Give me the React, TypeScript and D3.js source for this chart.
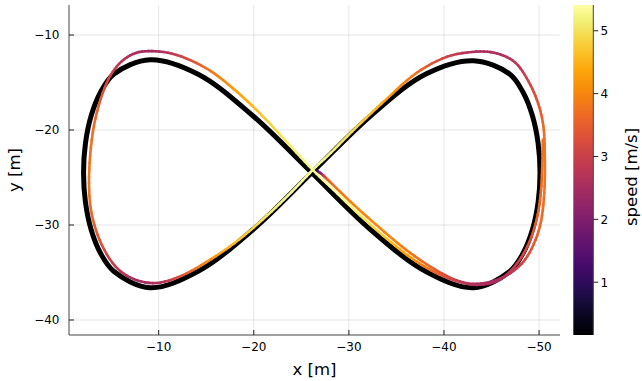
import React from "react";
import * as d3 from "d3";

// reference figure-eight (closed)
const refX = [-2.1, -2.3, -2.9, -3.9, -5.3, -9.1, -14.1, -19.9, -26.1, -32.3, -38.1, -43.1, -46.9, -48.3, -49.3, -49.9, -50.1, -49.9, -49.3, -48.3, -46.9, -43.1, -38.1, -32.3, -26.1, -19.9, -14.1, -9.1, -5.3, -3.9, -2.9, -2.3];
const refY = [-24.5, -21.4, -18.5, -16.0, -14.1, -12.6, -14.1, -18.5, -24.5, -30.5, -34.9, -36.6, -34.9, -33.0, -30.5, -27.6, -24.5, -21.4, -18.5, -16.0, -14.1, -12.7, -14.1, -18.5, -24.5, -30.5, -34.9, -36.6, -34.9, -33.0, -30.5, -27.6];

// driven trajectory
const trajX = [-26.5, -27.1, -28.0, -30.6, -33.3, -36.0, -38.6, -41.0, -43.1, -45.5, -47.6, -49.0, -50.1, -50.55, -50.6, -50.45, -49.9, -48.9, -47.5, -45.6, -43.4, -40.3, -37.1, -34.0, -30.8, -28.1, -26.2, -24.0, -21.4, -18.5, -15.5, -12.5, -9.8, -7.4, -5.4, -3.8, -2.85, -2.7, -3.2, -4.3, -5.6, -7.3, -9.3, -11.9, -15.0, -17.8, -20.8, -23.6, -26.2, -28.4, -31.2, -34.0, -36.6, -39.1, -41.3, -43.4, -45.6, -47.4, -48.8, -49.75, -50.2, -50.35, -50.4];
const trajY = [-24.25, -24.6, -25.45, -27.95, -30.35, -32.6, -34.4, -35.7, -36.2, -35.8, -34.6, -32.9, -30.1, -26.6, -22.5, -19.6, -17.2, -14.9, -12.9, -11.95, -11.75, -12.3, -14.0, -16.7, -19.7, -22.4, -24.2, -26.5, -29.0, -31.5, -33.6, -35.3, -36.1, -35.7, -34.3, -31.6, -28.2, -24.2, -19.5, -15.6, -13.3, -12.0, -11.7, -12.1, -13.5, -15.6, -18.4, -21.4, -24.2, -26.3, -29.0, -31.45, -33.5, -35.0, -35.9, -36.3, -35.9, -34.4, -32.2, -29.4, -26.4, -23.2, -21.0];
const trajSpeed = [0.16, 2.2, 3.6, 4.0, 4.0, 3.9, 3.6, 3.0, 2.6, 2.5, 2.9, 3.3, 3.6, 3.8, 3.8, 3.7, 3.4, 3.1, 2.8, 2.6, 2.55, 3.0, 3.7, 4.3, 4.9, 5.2, 5.3, 5.3, 5.1, 4.7, 4.2, 3.4, 2.6, 2.5, 2.9, 3.3, 3.7, 3.8, 3.7, 3.3, 2.9, 2.6, 2.45, 2.9, 3.7, 4.2, 4.7, 5.1, 5.3, 5.41, 5.1, 4.7, 4.2, 3.6, 3.0, 2.6, 2.5, 2.9, 3.2, 3.5, 3.7, 3.75, 3.75];

const xTicks = [-10, -20, -30, -40, -50];
const yTicks = [-10, -20, -30, -40];
const cTicks = [1, 2, 3, 4, 5];

const W = 642;
const H = 381;
const plot = { left: 69, right: 560, top: 5, bottom: 335 };
const cbar = { left: 573.3, right: 593.3 };
const font = "DejaVu Sans, sans-serif";
const fmt = (v: number) => (v < 0 ? "\u2212" + Math.abs(v) : String(v));

export default function App() {
  const x = d3.scaleLinear().domain([-0.57, -52.2]).range([plot.left, plot.right]);
  const y = d3.scaleLinear().domain([-41.58, -6.84]).range([plot.bottom, plot.top]);
  const sExt = d3.extent(trajSpeed) as [number, number];
  const c = d3.scaleLinear().domain(sExt).range([plot.bottom, plot.top]);
  const color = (v: number) => d3.interpolateInferno((v - sExt[0]) / (sExt[1] - sExt[0]));

  const refPts: [number, number][] = refX.map((v, i) => [x(v), y(refY[i])]);
  const refPath = d3.line().curve(d3.curveCatmullRomClosed.alpha(0.5))(refPts) || "";

  // colored trajectory: catmull-rom pieces sampled into short coloured segments
  const pts = trajX.map((v, i) => [x(v), y(trajY[i])]);
  const segs: { x1: number; y1: number; x2: number; y2: number; col: string }[] = [];
  const n = pts.length;
  const steps = 6;
  for (let i = 0; i < n - 1; i++) {
    const p0 = pts[Math.max(i - 1, 0)];
    const p1 = pts[i];
    const p2 = pts[i + 1];
    const p3 = pts[Math.min(i + 2, n - 1)];
    const c1 = [p1[0] + (p2[0] - p0[0]) / 6, p1[1] + (p2[1] - p0[1]) / 6];
    const c2 = [p2[0] - (p3[0] - p1[0]) / 6, p2[1] - (p3[1] - p1[1]) / 6];
    const bez = (t: number) => {
      const u = 1 - t;
      return [
        u * u * u * p1[0] + 3 * u * u * t * c1[0] + 3 * u * t * t * c2[0] + t * t * t * p2[0],
        u * u * u * p1[1] + 3 * u * u * t * c1[1] + 3 * u * t * t * c2[1] + t * t * t * p2[1],
      ];
    };
    for (let k = 0; k < steps; k++) {
      const a = bez(k / steps);
      const b = bez((k + 1) / steps);
      const v = trajSpeed[i] + (trajSpeed[i + 1] - trajSpeed[i]) * ((k + 0.5) / steps);
      segs.push({ x1: a[0], y1: a[1], x2: b[0], y2: b[1], col: color(v) });
    }
  }

  const gradStops = d3.range(0, 1.0001, 0.05);

  return (
    <svg width={W} height={H} style={{ position: "absolute", left: 0, top: 0 }} fontFamily={font}>
      <defs>
        <linearGradient id="cb" x1="0" y1="1" x2="0" y2="0">
          {gradStops.map((t) => (
            <stop key={t} offset={t} stopColor={d3.interpolateInferno(t)} />
          ))}
        </linearGradient>
      </defs>
      <rect width={W} height={H} fill="#fff" />

      {/* grid */}
      {xTicks.map((t) => (
        <line key={"gx" + t} x1={x(t)} x2={x(t)} y1={plot.top} y2={plot.bottom} stroke="#000" strokeOpacity={0.1} strokeWidth={1} />
      ))}
      {yTicks.map((t) => (
        <line key={"gy" + t} x1={plot.left} x2={plot.right} y1={y(t)} y2={y(t)} stroke="#000" strokeOpacity={0.1} strokeWidth={1} />
      ))}

      {/* reference */}
      <path d={refPath} fill="none" stroke="#000" strokeWidth={5} />

      {/* trajectory */}
      {segs.map((s, i) => (
        <line key={i} x1={s.x1} y1={s.y1} x2={s.x2} y2={s.y2} stroke={s.col} strokeWidth={2.6} strokeLinecap="round" />
      ))}

      {/* axes */}
      <line x1={plot.left} x2={plot.left} y1={plot.top} y2={plot.bottom} stroke="#444" strokeWidth={1} />
      <line x1={plot.left} x2={plot.right} y1={plot.bottom} y2={plot.bottom} stroke="#444" strokeWidth={1} />
      {xTicks.map((t) => (
        <g key={"tx" + t}>
          <line x1={x(t)} x2={x(t)} y1={plot.bottom} y2={plot.bottom - 5} stroke="#222" />
          <text x={x(t)} y={351} fontSize={12} textAnchor="middle" fill="#000">{fmt(t)}</text>
        </g>
      ))}
      {yTicks.map((t) => (
        <g key={"ty" + t}>
          <line x1={plot.left} x2={plot.left + 5} y1={y(t)} y2={y(t)} stroke="#222" />
          <text x={59.5} y={y(t) + 4.3} fontSize={12} textAnchor="end" fill="#000">{fmt(t)}</text>
        </g>
      ))}
      <text x={(plot.left + plot.right) / 2} y={375} fontSize={16.5} textAnchor="middle" fill="#000">x [m]</text>
      <text transform={`translate(20,170) rotate(-90)`} fontSize={16.5} textAnchor="middle" fill="#000">y [m]</text>

      {/* colorbar */}
      <rect x={cbar.left} y={plot.top} width={cbar.right - cbar.left} height={plot.bottom - plot.top} fill="url(#cb)" />
      <line x1={cbar.right} x2={cbar.right} y1={plot.top} y2={plot.bottom} stroke="#444" />
      {cTicks.map((t) => (
        <g key={"tc" + t}>
          <line x1={cbar.right} x2={cbar.right + 5} y1={c(t)} y2={c(t)} stroke="#222" />
          <text x={600.5} y={c(t) + 4.3} fontSize={12} fill="#000">{t}</text>
        </g>
      ))}
      <text transform={`translate(636.5,177) rotate(-90)`} fontSize={16.5} textAnchor="middle" fill="#000">speed [m/s]</text>
    </svg>
  );
}
